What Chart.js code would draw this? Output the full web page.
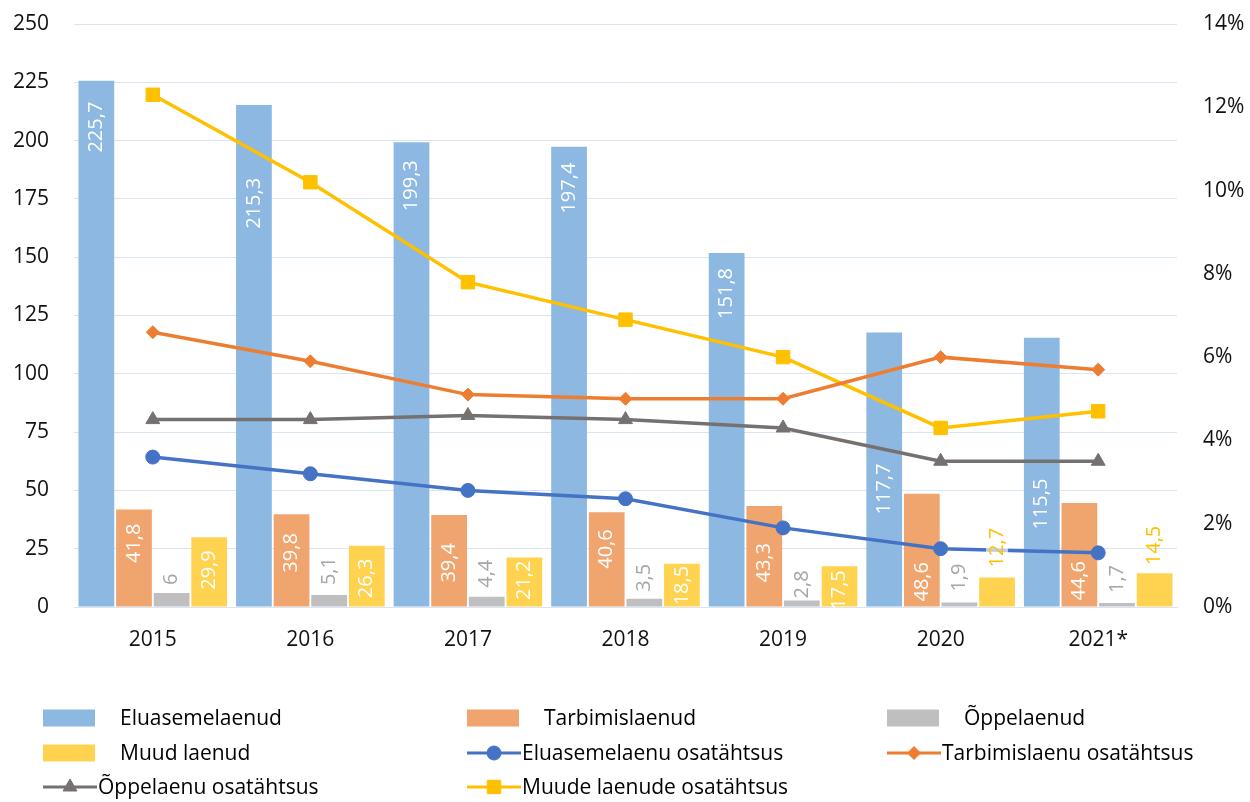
<!DOCTYPE html>
<html>
<head>
<meta charset="utf-8">
<script src="https://cdn.jsdelivr.net/npm/chart.js@4.4.1/dist/chart.umd.min.js"></script>
<style>
  html, body { margin: 0; padding: 0; background: #fff; }
  #wrap { width: 1250px; height: 802px; }
</style>
</head>
<body>
<div id="wrap"><canvas id="chart" width="1250" height="802"></canvas></div>
<script>
// andmed
const years = ["2015", "2016", "2017", "2018", "2019", "2020", "2021*"];
const eluasemelaenud = [225.7, 215.3, 199.3, 197.4, 151.8, 117.7, 115.5];
const tarbimislaenud = [41.8, 39.8, 39.4, 40.6, 43.3, 48.6, 44.6];
const oppelaenud = [6, 5.1, 4.4, 3.5, 2.8, 1.9, 1.7];
const muudLaenud = [29.9, 26.3, 21.2, 18.5, 17.5, 12.7, 14.5];
// osatähtsus, %
const eluasemeShare = [3.6, 3.2, 2.8, 2.6, 1.9, 1.4, 1.3];
const tarbimisShare = [6.6, 5.9, 5.1, 5.0, 5.0, 6.0, 5.7];
const oppeShare = [4.5, 4.5, 4.6, 4.5, 4.3, 3.5, 3.5];
const muudShare = [12.3, 10.2, 7.8, 6.9, 6.0, 4.3, 4.7];

const FONT = '"Open Sans", "Noto Sans", sans-serif';
const fmt = (v) => String(v).replace(".", ",");

// bar value labels, drawn rotated like in Excel
const barLabels = {
  id: "barLabels",
  afterDatasetsDraw(chart) {
    const ctx = chart.ctx;
    chart.data.datasets.forEach((ds, i) => {
      if (!ds.lbl) return;
      const meta = chart.getDatasetMeta(i);
      const L = ds.lbl;
      meta.data.forEach((bar, j) => {
        const text = fmt(ds.data[j]);
        const pos = L.pos[j];
        const gap = L.gap[j];
        ctx.save();
        ctx.font = "20px " + FONT;
        ctx.textBaseline = "middle";
        let y;
        if (pos === "end") {
          y = bar.y + gap;
          ctx.textAlign = "right";
        } else if (pos === "start") {
          y = bar.base - gap;
          ctx.textAlign = "left";
        } else {
          y = bar.y - gap;
          ctx.textAlign = "left";
        }
        ctx.translate(bar.x, y);
        ctx.rotate(-Math.PI / 2);
        if (L.bg && L.bg[j]) {
          const w = ctx.measureText(text).width;
          ctx.fillStyle = L.bg[j];
          ctx.fillRect(-5, -11, w + 10, 22);
        }
        ctx.fillStyle = L.color[j];
        ctx.fillText(text, 0, 0);
        ctx.restore();
      });
    });
  },
};

// legend in 3 columns
const legendCols = [43, 467, 887];
const legendRows = [718, 753, 787];
const legendGrid = {
  id: "legendGrid",
  afterDraw(chart) {
    const ctx = chart.ctx;
    chart.data.datasets.forEach((ds, i) => {
      const x = legendCols[i % 3];
      const y = legendRows[Math.floor(i / 3)];
      ctx.save();
      let tx;
      if (ds.type === "line") {
        ctx.strokeStyle = ds.borderColor;
        ctx.fillStyle = ds.backgroundColor;
        ctx.lineWidth = 3;
        ctx.beginPath();
        ctx.moveTo(x, y);
        ctx.lineTo(x + 54, y);
        ctx.stroke();
        ctx.lineWidth = 1;
        if (Chart.helpers && Chart.helpers.drawPoint) {
          Chart.helpers.drawPoint(ctx, {
            pointStyle: ds.pointStyle,
            radius: ds.pointRadius,
            rotation: 0,
            borderWidth: 1,
          }, x + 27, y);
        }
        tx = x + 55;
      } else {
        ctx.fillStyle = ds.backgroundColor;
        ctx.fillRect(x, y - 8.5, 52, 17);
        tx = x + 77;
      }
      ctx.fillStyle = "#000";
      ctx.font = "21px " + FONT;
      ctx.textBaseline = "middle";
      ctx.textAlign = "left";
      ctx.fillText(ds.label, tx, y + 1);
      ctx.restore();
    });
  },
};

const W = "#ffffff";
const lineDs = (label, data, color, style, radius) => ({
  type: "line",
  label,
  data,
  yAxisID: "y1",
  borderColor: color,
  backgroundColor: color,
  borderWidth: 3.5,
  pointStyle: style,
  pointRadius: radius,
  pointBorderWidth: 1,
  tension: 0,
  order: 0,
});

// fixed axis sizes so the plot area lands where it is in the original
const fixWidth = (w) => (s) => {
  s.width = w;
  s.paddingTop = 0;
  s.paddingBottom = 0;
};

new Chart(document.getElementById("chart"), {
  type: "bar",
  data: {
    labels: years,
    datasets: [
      {
        label: "Eluasemelaenud",
        data: eluasemelaenud,
        backgroundColor: "#8db8e2",
        order: 1,
        lbl: {
          pos: ["end", "end", "end", "end", "end", "start", "start"],
          gap: [21, 73, 18, 16, 15, 92, 77],
          color: [W, W, W, W, W, W, W],
        },
      },
      {
        label: "Tarbimislaenud",
        data: tarbimislaenud,
        backgroundColor: "#f0a46e",
        order: 1,
        lbl: {
          pos: ["end", "end", "end", "end", "end", "start", "start"],
          gap: [14, 19, 28, 17, 37, 5, 6],
          color: [W, W, W, W, W, W, W],
        },
      },
      {
        label: "Õppelaenud",
        data: oppelaenud,
        backgroundColor: "#bfbfbf",
        order: 1,
        lbl: {
          pos: ["out", "out", "out", "out", "out", "out", "out"],
          gap: [8, 10, 9, 7, 2, 11, 10],
          color: Array(7).fill("#a6a6a6"),
        },
      },
      {
        label: "Muud laenud",
        data: muudLaenud,
        backgroundColor: "#ffd34f",
        order: 1,
        lbl: {
          pos: ["end", "end", "end", "end", "end", "out", "out"],
          gap: [13, 13, 3, 2, 4, 10, 8],
          color: [W, W, W, W, W, "#ffc000", "#ffc000"],
          bg: [null, null, null, null, null, "rgba(255,255,255,0.65)", null],
        },
      },
      lineDs("Eluasemelaenu osatähtsus", eluasemeShare, "#4472c4", "circle", 7),
      lineDs("Tarbimislaenu osatähtsus", tarbimisShare, "#ed7d31", "rectRot", 6.5),
      lineDs("Õppelaenu osatähtsus", oppeShare, "#767171", "triangle", 8),
      lineDs("Muude laenude osatähtsus", muudShare, "#ffc000", "rect", 9.5),
    ],
  },
  options: {
    responsive: false,
    animation: false,
    layout: { padding: { top: 24, bottom: 135, left: 0, right: 0 } },
    datasets: {
      bar: { categoryPercentage: 0.955, barPercentage: 0.95 },
    },
    plugins: {
      legend: { display: false },
      tooltip: { enabled: false },
    },
    scales: {
      x: {
        grid: { display: false, drawTicks: false },
        border: { display: true, color: "#dae5f3", width: 1 },
        ticks: { color: "#111", font: { family: FONT, size: 21 }, padding: 20 },
        afterFit: (s) => { s.height = 60; },
      },
      y: {
        position: "left",
        min: 0,
        max: 250,
        ticks: { stepSize: 25, color: "#111", font: { family: FONT, size: 21 }, padding: 25 },
        grid: { color: "#dae5f3", drawTicks: false },
        border: { display: false },
        afterFit: fixWidth(74),
      },
      y1: {
        position: "right",
        min: 0,
        max: 14,
        ticks: {
          stepSize: 2,
          color: "#111",
          font: { family: FONT, size: 21 },
          padding: 26,
          callback: (v) => v + "%",
        },
        grid: { display: false, drawTicks: false },
        border: { display: false },
        afterFit: fixWidth(73),
      },
    },
  },
  plugins: [barLabels, legendGrid],
});
</script>
</body>
</html>
